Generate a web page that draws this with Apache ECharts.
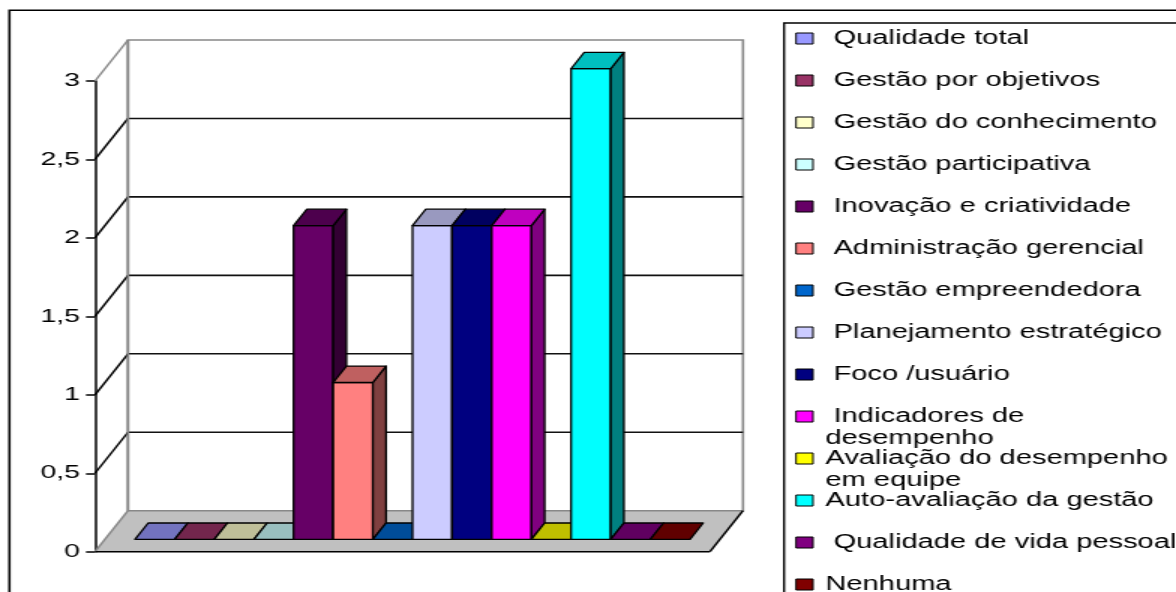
<!DOCTYPE html>
<html><head><meta charset="utf-8">
<script src="https://cdn.jsdelivr.net/npm/echarts@6/dist/echarts.min.js"></script>
<style>
html,body{margin:0;padding:0;background:#fff;overflow:hidden;}
#wrap{width:1176px;height:592px;overflow:hidden;position:relative;}
#chart{width:784px;height:592px;transform:scaleX(1.5);transform-origin:0 0;}
</style></head><body><div id="wrap"><div id="chart"></div></div>
<script>
// ---- data ----
const seriesNames = [' Qualidade total',' Gestão por objetivos',' Gestão do conhecimento',' Gestão participativa',' Inovação e criatividade',' Administração gerencial',' Gestão empreendedora',' Planejamento estratégico',' Foco /usuário',' Indicadores de desempenho','Avaliação do desempenho em equipe','Auto-avaliação da gestão',' Qualidade de vida pessoal','Nenhuma'];
const seriesValues = [0,0,0,0,2,1,0,2,2,2,0,3,0,0];
const seriesColors = ['#9999FF','#993366','#FFFFCC','#CCFFFF','#660066','#FF8080','#0066CC','#CCCCFF','#000080','#FF00FF','#FFFF00','#00FFFF','#800080','#800000'];
const yTicks = [0,0.5,1,1.5,2,2.5,3];
const yTickLabels = ['0','0,5','1','1,5','2','2,5','3'];

// ---- style / geometry constants ----
const FONT = '"Liberation Sans", Arial, sans-serif';
const LEGEND_FONT = '19.4px ' + FONT;
const DEPTH = [22, -41];       // full floor depth (unstretched px)
const BAR_D = [8.8, -16.4];    // bar depth
const STROKE = 1.3;

function shade(hex, f){
  const n = parseInt(hex.slice(1),16);
  const r = Math.round(((n>>16)&255)*f), g = Math.round(((n>>8)&255)*f), b = Math.round((n&255)*f);
  return 'rgb('+r+','+g+','+b+')';
}
function add(p, d, k){ k = k==null?1:k; return [p[0]+d[0]*k, p[1]+d[1]*k]; }

const measureCtx = document.createElement('canvas').getContext('2d');
function wrapLabel(text, font, maxW){
  measureCtx.font = font;
  const words = text.split(' ');
  const lines = []; let cur = '';
  words.forEach((w,k) => {
    const cand = k===0 ? w : cur + ' ' + w;
    if (k>0 && cur.trim()!=='' && measureCtx.measureText(cand).width > maxW){ lines.push(cur); cur = w; }
    else cur = cand;
  });
  lines.push(cur);
  return lines.join('\n');
}

const chart = echarts.init(document.getElementById('chart'), null, {renderer:'canvas'});

function wallRender(params, api){
  const yMax = yTicks[yTicks.length-1];
  const fl = api.coord([0,0]), fr = api.coord([1,0]);
  const tl = api.coord([0,yMax]), tr = api.coord([1,yMax]);
  const bl = add(fl,DEPTH), br = add(fr,DEPTH), btl = add(tl,DEPTH), btr = add(tr,DEPTH);
  const ch = [];
  const line = (a,b,color,w) => ({type:'line', shape:{x1:a[0],y1:a[1],x2:b[0],y2:b[1]}, style:{stroke:color,lineWidth:w||STROKE}});
  ch.push({type:'polygon', shape:{points:[bl,br,btr,btl]}, style:{fill:'#fff', stroke:'#888', lineWidth:1.6}});
  ch.push({type:'polygon', shape:{points:[fl,fr,br,bl]}, style:{fill:'#C0C0C0'}});
  yTicks.forEach(v => {
    if (v <= 0 || v >= yMax) return;
    const f = api.coord([0,v]), r = api.coord([1,v]);
    ch.push(line(add(f,DEPTH), add(r,DEPTH), '#111', 1.6));
    ch.push(line(f, add(f,DEPTH), '#000', 1.5));
  });
  ch.push(line(tl, btl, '#888', 1.5));
  ch.push(line(fl, bl, '#888', 1.5));
  ch.push(line(bl, br, '#888', 1.6));
  ch.push(line(btl, bl, '#888', 1.6));
  ch.push(line(fl, fr, '#000', 1.5));
  ch.push(line(fr, br, '#000', 1.5));
  return {type:'group', children: ch};
}

function barRender(params, api){
  const idx = api.value(0), v = api.value(1);
  const bw = api.size([1,0])[0];
  const p0 = api.coord([idx,0]), p1 = api.coord([idx,v]);
  const xl = p0[0]-bw/2, xr = p0[0]+bw/2, yb = p0[1], yt = p1[1];
  const c = seriesColors[params.seriesIndex-1];
  const st = {stroke:'#000', lineWidth:STROKE, lineJoin:'round'};
  const ch = [];
  if (yb - yt > 0.5){
    ch.push({type:'polygon', shape:{points:[[xl,yb],[xr,yb],[xr,yt],[xl,yt]]}, style:Object.assign({fill:c},st)});
    ch.push({type:'polygon', shape:{points:[[xr,yb],add([xr,yb],BAR_D),add([xr,yt],BAR_D),[xr,yt]]}, style:Object.assign({fill:shade(c,0.5)},st)});
  }
  ch.push({type:'polygon', shape:{points:[[xl,yt],[xr,yt],add([xr,yt],BAR_D),add([xl,yt],BAR_D)]}, style:Object.assign({fill:shade(c,0.75)},st)});
  return {type:'group', children: ch};
}

const series = [{
  type:'custom', name:'walls', xAxisIndex:1, yAxisIndex:1, z:1,
  data:[[0,0]], renderItem: wallRender, silent:true
}];
seriesNames.forEach((n,i) => {
  series.push({type:'custom', name:n, xAxisIndex:0, yAxisIndex:0, z:10+i,
    data:[[i, seriesValues[i]]], renderItem: barRender, itemStyle:{color:seriesColors[i]}});
});

const legendEls = [
  {type:'rect', shape:{x:6.3,y:10.3,width:900,height:900}, style:{fill:'none',stroke:'#000',lineWidth:1.6}, z:0},
  {type:'rect', shape:{x:522.7,y:23,width:400,height:700}, style:{fill:'#fff',stroke:'#000',lineWidth:1.4}, z:5}
];
seriesNames.forEach((n,i) => {
  const cy = 38.5 + 42*i;
  legendEls.push({type:'rect', shape:{x:530.7,y:cy-5.5,width:11.3,height:11}, style:{fill:seriesColors[i],stroke:'#000',lineWidth:1}, z:6});
  legendEls.push({type:'text', x:550.3, y:cy-11, style:{text:wrapLabel(n, LEGEND_FONT, 238), fill:'#000', font:LEGEND_FONT, lineHeight:22, verticalAlign:'top', align:'left'}, z:6});
});

chart.setOption({
  animation:false,
  backgroundColor:'#fff',
  textStyle:{fontFamily:FONT},
  grid:[
    {left:90, top:68.7, width:370, height:470.7},
    {left:63.33, top:81, width:410, height:470.7}
  ],
  xAxis:[
    {gridIndex:0, type:'category', data:seriesNames, show:false, boundaryGap:true},
    {gridIndex:1, type:'value', min:0, max:1, show:false}
  ],
  yAxis:[
    {gridIndex:0, type:'value', min:0, max:3, show:false},
    {gridIndex:1, type:'value', min:0, max:3, interval:0.5,
     axisLine:{show:true, lineStyle:{color:'#000', width:1.5}},
     axisTick:{show:true, length:6, lineStyle:{color:'#000', width:1.5}},
     splitLine:{show:false},
     axisLabel:{color:'#000', fontSize:19, fontFamily:FONT, margin:10,
       formatter: v => { const k = yTicks.indexOf(v); return k>=0 ? yTickLabels[k] : ''; }}}
  ],
  series: series,
  graphic: legendEls
});
</script></body></html>
